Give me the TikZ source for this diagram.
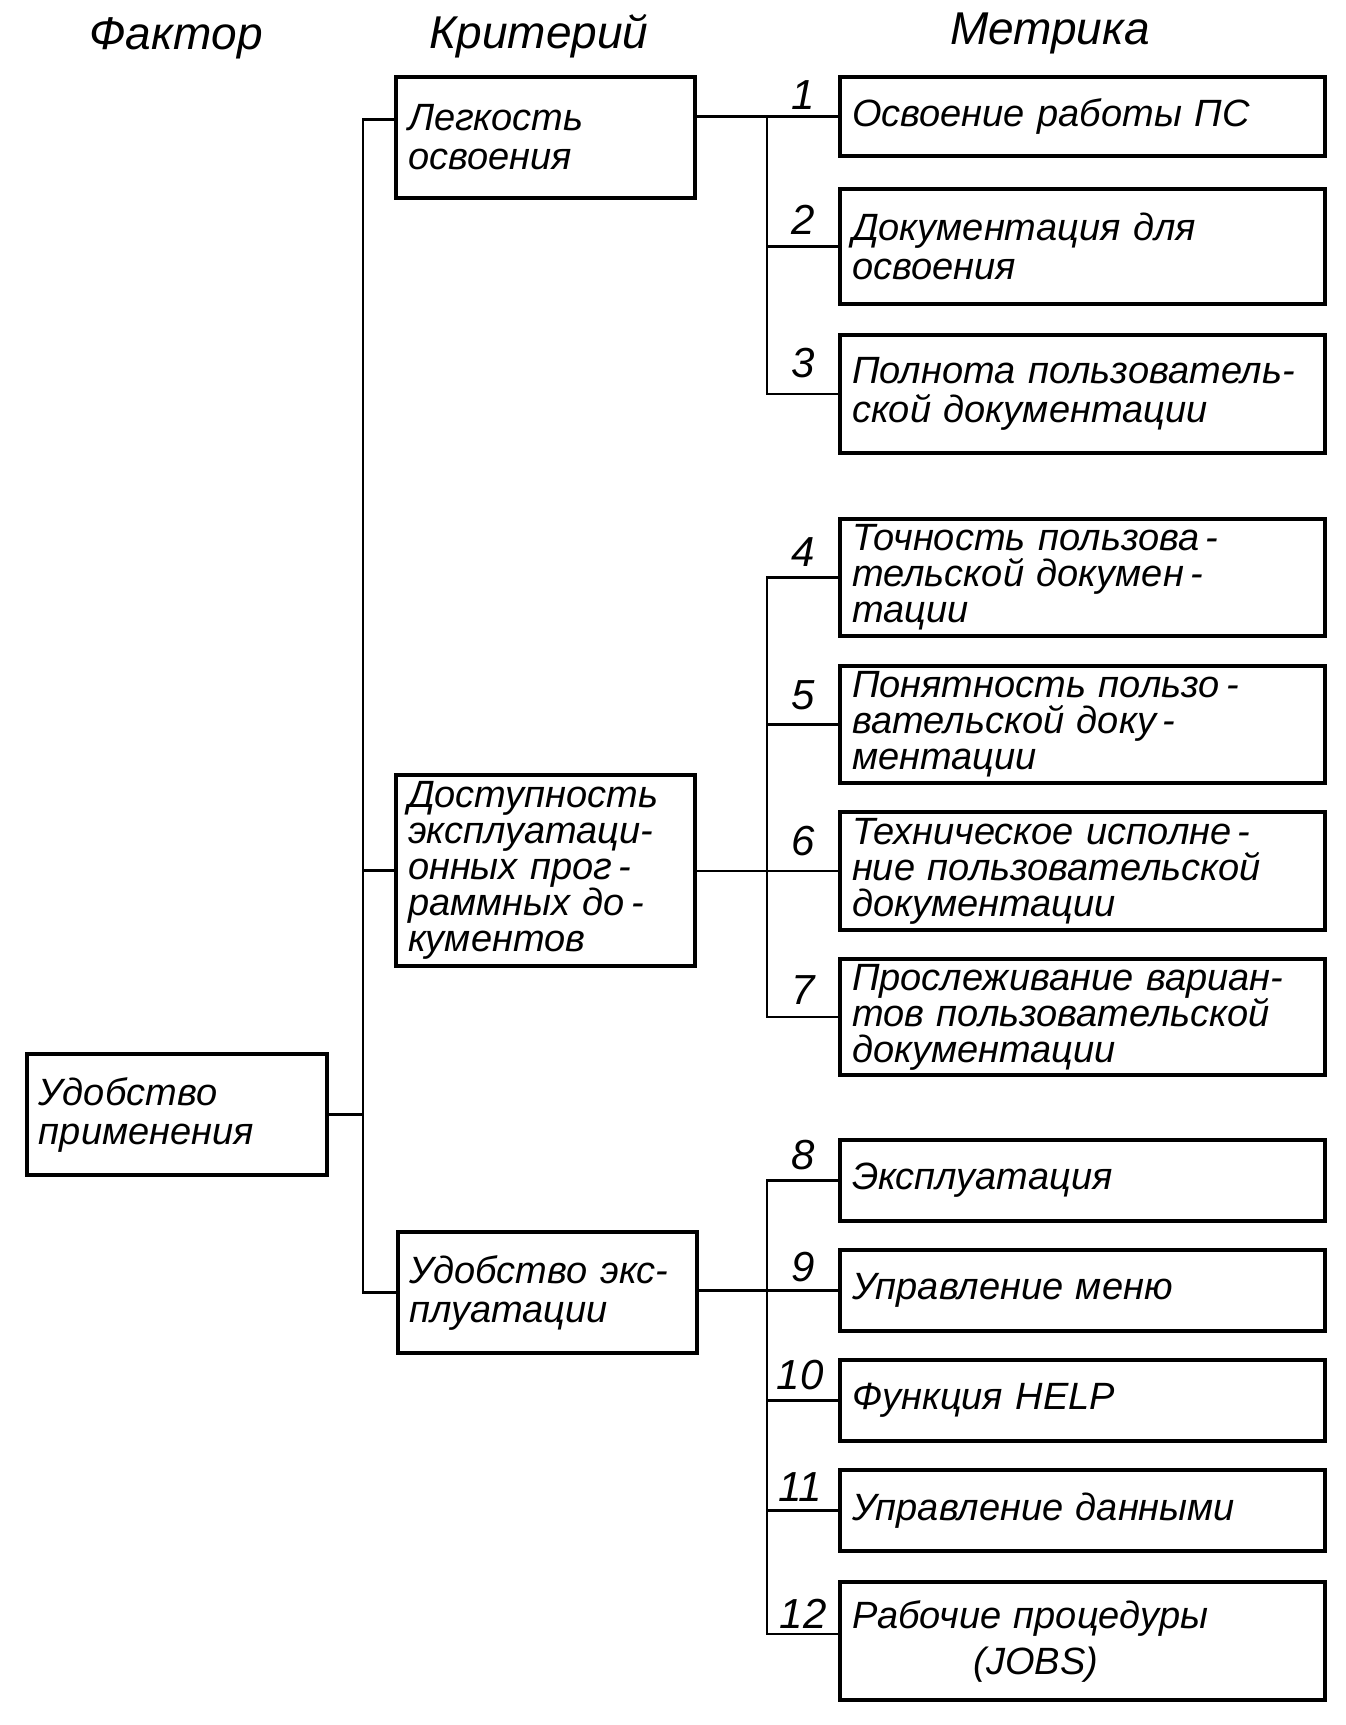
\documentclass[tikz,border=0pt]{standalone}
\usepackage{fontspec}
\setmainfont{Liberation Sans}
\newcommand{\bxfont}{\fontsize{19}{19.5}\selectfont\itshape}
\newcommand{\bxtight}{\fontsize{19}{18}\selectfont\itshape}
\begin{document}
\begin{tikzpicture}[x=0.5pt,y=-0.5pt,
  box/.style={draw, line width=2pt, align=left, inner xsep=6pt, inner ysep=0pt, font=\bxfont},
  fbox/.style={box, text width=138pt},
  cbox/.style={box, text width=137.5pt},
  mbox/.style={box, text width=230.5pt},
  conn/.style={line width=1.3pt},
  num/.style={font=\fontsize{21}{21}\selectfont\itshape, inner sep=0pt},
  head/.style={font=\fontsize{23}{23}\selectfont\itshape, inner sep=0pt}]
\useasboundingbox (0,0) rectangle (1345,1725);

% headers
\node[head] (h1) at (176,38) {Фактор};
\node[head] (h2) at (539,36) {Критерий};
\node[head] (h3) at (1050,33) {Метрика};

% factor
\node[fbox, minimum height=60.5pt] (f) at (177,1114.5) {Удобство\\применения};

% criteria
\node[cbox, minimum height=60.5pt] (c1) at (545.5,137.5) {Легкость\\освоения};
\node[cbox, minimum height=95.5pt, font=\bxtight] (c2) at (545.5,870.5) {Доступность\\эксплуатаци-\\онных прог\,-\\раммных до\,-\\кументов};
\node[cbox, minimum height=60.5pt] (c3) at (547,1292.5) {Удобство экс-\\плуатации};

% metrics
\node[mbox, minimum height=39.5pt] (m1) at (1082.5,116.5) {Освоение работы ПС};
\node[mbox, minimum height=57.5pt] (m2) at (1082.5,246.5) {Документация для\\освоения};
\node[mbox, minimum height=59pt] (m3) at (1082.5,394) {Полнота пользователь-\\ской документации};
\node[mbox, minimum height=58.5pt, font=\bxtight] (m4) at (1082.5,577.5) {Точность пользова\,-\\тельской докумен\,-\\тации};
\node[mbox, minimum height=58.5pt, font=\bxtight] (m5) at (1082.5,724.5) {Понятность пользо\,-\\вательской доку\,-\\ментации};
\node[mbox, minimum height=59pt, font=\bxtight] (m6) at (1082.5,871) {Техническое исполне\,-\\ние пользовательской\\документации};
\node[mbox, minimum height=58pt, font=\bxtight] (m7) at (1082.5,1017) {Прослеживание вариан-\\тов пользовательской\\документации};
\node[mbox, minimum height=40.5pt] (m8) at (1082.5,1180.5) {Эксплуатация};
\node[mbox, minimum height=40.5pt] (m9) at (1082.5,1290.5) {Управление меню};
\node[mbox, minimum height=40.5pt] (m10) at (1082.5,1400.5) {Функция HELP};
\node[mbox, minimum height=40.5pt] (m11) at (1082.5,1510.5) {Управление данными};
\node[mbox, minimum height=59pt, font=\fontsize{19}{23}\selectfont\itshape] (m12) at (1082.5,1641) {Рабочие процедуры\\\hspace*{3.2em}(JOBS)};

% trunks
\coordinate (ty) at (363,0);
\coordinate (tx) at (767,0);
\coordinate (m12c) at ([yshift=3.5pt]m12.west);

% factor -> criteria
\draw[conn] (f.east) -- (f.east -| ty);
\draw[conn] ([yshift=9pt]c1.west) -| (ty |- c3.west) -- (c3.west);
\draw[conn] (c2.west) -- (c2.west -| ty);

% group 1
\draw[conn] (c1.east |- m1.west) -- (m1.west);
\draw[conn] (m1.west -| tx) |- (m3.west);
\draw[conn] (m2.west -| tx) -- (m2.west);

% group 2
\draw[conn] (c2.east |- m6.west) -- (m6.west);
\draw[conn] (m4.west) -| (tx |- m7.west) -- (m7.west);
\draw[conn] (m5.west -| tx) -- (m5.west);

% group 3
\draw[conn] (c3.east |- m9.west) -- (m9.west);
\draw[conn] (m8.west) -| (tx |- m12c) -- (m12c);
\draw[conn] (m10.west -| tx) -- (m10.west);
\draw[conn] (m11.west -| tx) -- (m11.west);

% numbers
\node[num] (n1) at (803,95) {1};
\node[num] (n2) at (803,220) {2};
\node[num] (n3) at (803,363) {3};
\node[num] (n4) at (803,552) {4};
\node[num] (n5) at (803,695) {5};
\node[num] (n6) at (803,841) {6};
\node[num] (n7) at (803,990) {7};
\node[num] (n8) at (803,1155) {8};
\node[num] (n9) at (803,1267) {9};
\node[num] (n10) at (800,1375) {10};
\node[num] (n11) at (800,1487) {11};
\node[num] (n12) at (803,1614) {12};
\end{tikzpicture}
\end{document}
